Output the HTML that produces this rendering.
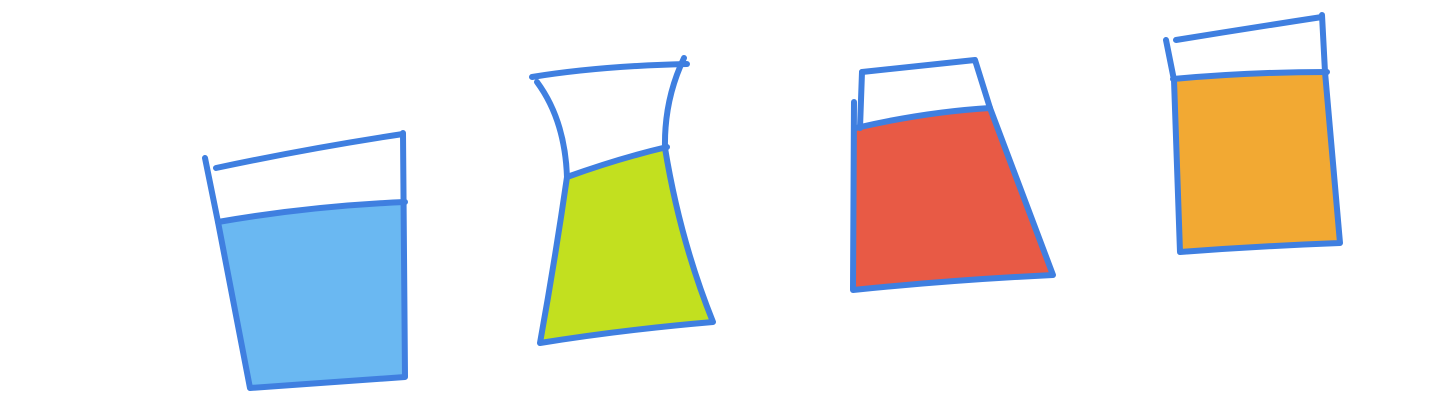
<!DOCTYPE html>
<html>
<head>
<meta charset="utf-8">
<style>
html,body{margin:0;padding:0;background:#fff;width:1440px;height:408px;overflow:hidden;}
svg{display:block;}
.o{fill:none;stroke:#3f7fe0;stroke-width:6;stroke-linejoin:round;stroke-linecap:round;}
</style>
</head>
<body>
<svg width="1440" height="408" viewBox="0 0 1440 408">
  <!-- Glass 1 blue -->
  <g>
    <path d="M218,222 Q310,208 403,202 L404,376 Q330,384 250,388 Z" fill="#6ab8f2"/>
    <path class="o" d="M205,158 L218,222 L250,388 Q330,382 405,377 L403,133"/>
    <path class="o" d="M216,168 Q310,148 403,134"/>
    <path class="o" d="M218,222 Q310,206 405,202"/>
  </g>
  <!-- Glass 2 green -->
  <g>
    <path d="M567,177 Q620,158 665,148 Q680,240 712,322 Q620,332 540,343 Q555,260 567,177 Z" fill="#c2e01f"/>
    <path class="o" d="M532,77 Q600,66 687,64"/>
    <path class="o" d="M537,82 Q565,120 567,177 Q555,260 540,343 Q620,330 713,322 Q680,240 665,148 Q664,100 684,58"/>
    <path class="o" d="M567,177 Q620,158 667,147"/>
  </g>
  <!-- Glass 3 red -->
  <g>
    <path d="M856,128 Q925,112 990,108 L1053,275 Q950,282 853,290 Z" fill="#e85a45"/>
    <path class="o" d="M862,72 Q920,66 975,60 L990,108"/>
    <path class="o" d="M862,72 L860,128"/>
    <path class="o" d="M854,102 L853,290 Q950,280 1053,275 L990,108"/>
    <path class="o" d="M856,128 Q925,112 990,108"/>
  </g>
  <!-- Glass 4 orange -->
  <g>
    <path d="M1174,80 Q1250,74 1325,72 L1339,243 Q1260,246 1180,252 Z" fill="#f2a933"/>
    <path class="o" d="M1166,40 L1174,80 L1180,252 Q1260,246 1340,243 L1325,72 L1322,15"/>
    <path class="o" d="M1176,40 Q1250,28 1322,17"/>
    <path class="o" d="M1173,79 Q1250,72 1327,72"/>
  </g>
</svg>
</body>
</html>
